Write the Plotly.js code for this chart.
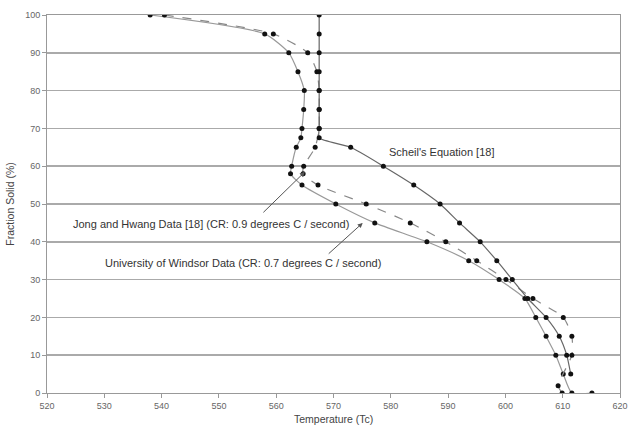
<!DOCTYPE html>
<html><head><meta charset="utf-8">
<script src="https://cdn.plot.ly/plotly-3.0.1.min.js"></script>
<style>html,body{margin:0;padding:0;background:#fff}#chart{width:644px;height:426px}</style>
</head><body><div id="chart"></div>
<script>
// Scheil's Equation [18]
const scheilT  = [567.5,567.5,567.5,567.5,567.5,567.5,567.5,567.5,573.0,578.7,584.0,588.6,592.0,595.6,598.5,601.2,603.9,607.1,609.4,610.7,611.4];
const scheilFs = [100,95,90,85,80,75,70,67.5,65,60,55,50,45,40,35,30,25,20,15,10,5];
// Jong and Hwang Data [18] (dashed)
const jongT  = [540.5,559.5,565.5,567.1,567.5,567.5,567.5,566.8,564.8,564.7,567.3,575.7,583.4,589.6,595.0,600.1,604.8,610.1,611.6,611.6,609.2,609.9];
const jongFs = [100,95,90,85,80,75,70,65,60,58,55,50,45,40,35,30,25,20,15,10,1.9,0];
// University of Windsor Data
const windT  = [538.0,558.0,562.2,563.8,564.9,564.8,564.5,564.3,563.5,562.7,562.5,564.5,570.4,577.2,586.3,593.6,598.9,603.4,605.3,607.1,608.8,610.1,611.6,615.1];
const windFs = [100,95,90,85,80,75,70,67.5,65,60,58,55,50,45,40,35,30,25,20,15,10,5,0,0];

const xTicks = [520,530,540,550,560,570,580,590,600,610,620];
const yTicks = [0,10,20,30,40,50,60,70,80,90,100];

const mk = {symbol:'circle', size:5, color:'#111'};
const traces = [
  {x:windT, y:windFs, mode:'lines+markers', line:{color:'#999', width:1.2, shape:'spline', smoothing:0.6}, marker:mk, name:'University of Windsor'},
  {x:jongT, y:jongFs, mode:'lines+markers', line:{color:'#888', width:1.2, dash:'dash', shape:'spline', smoothing:0.6}, marker:mk, name:'Jong and Hwang'},
  {x:scheilT, y:scheilFs, mode:'lines+markers', line:{color:'#666', width:1.2, shape:'spline', smoothing:0.6}, marker:mk, name:'Scheil'}
];
const font = {family:'Liberation Sans, Arial, sans-serif', size:11, color:'#333'};
const layout = {
  width:644, height:426,
  margin:{l:47, r:24, t:15, b:33},
  paper_bgcolor:'#fff', plot_bgcolor:'#fff',
  showlegend:false,
  font:font,
  xaxis:{range:[520,620], tickvals:xTicks, ticktext:xTicks.map(String), showgrid:false, zeroline:false,
    showline:true, linecolor:'#999', linewidth:1, mirror:true, ticks:'outside', ticklen:4, tickcolor:'#999',
    tickfont:{family:'Liberation Sans, Arial', size:9, color:'#666'}},
  yaxis:{range:[0,100], tickvals:yTicks, ticktext:yTicks.map(String), showgrid:true, gridcolor:'#aaa', gridwidth:1.5, zeroline:false,
    showline:true, linecolor:'#999', linewidth:1, mirror:true, ticks:'outside', ticklen:4, tickcolor:'#999',
    tickfont:{family:'Liberation Sans, Arial', size:9, color:'#666'},
    title:{text:'Fraction Solid (%)', font:{family:'Liberation Sans, Arial', size:10.5, color:'#444'}, standoff:8}},
  annotations:[
    {x:0.5, y:-0.068, xref:'paper', yref:'paper', text:'Temperature (Tc)', showarrow:false, xanchor:'center', yanchor:'middle', font:{family:'Liberation Sans, Arial', size:10.5, color:'#444'}},
    {x:579.3, y:63.8, xref:'x', yref:'y', text:"Scheil's Equation [18]", showarrow:false, xanchor:'left', font:font},
    {x:524.2, y:44.7, xref:'x', yref:'y', text:'Jong and Hwang Data [18] (CR: 0.9 degrees C / second)', showarrow:false, xanchor:'left', font:font},
    {x:529.8, y:34.4, xref:'x', yref:'y', text:'University of Windsor Data (CR: 0.7 degrees C / second)', showarrow:false, xanchor:'left', font:font},
    {x:565.0, y:58.5, ax:557.5, ay:47.4, axref:'x', ayref:'y', xref:'x', yref:'y', text:'', showarrow:true, arrowhead:2, arrowsize:1, arrowwidth:1, arrowcolor:'#555'},
    {x:575.1, y:45.0, ax:568.9, ay:36.5, axref:'x', ayref:'y', xref:'x', yref:'y', text:'', showarrow:true, arrowhead:2, arrowsize:1, arrowwidth:1, arrowcolor:'#555'}
  ]
};
Plotly.newPlot('chart', traces, layout, {displayModeBar:false, staticPlot:true});
</script></body></html>
